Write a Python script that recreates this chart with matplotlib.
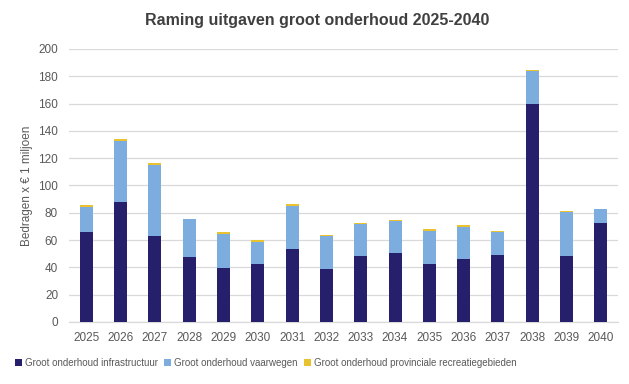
import matplotlib.pyplot as plt
import numpy as np

# Data (bedragen x EUR 1 miljoen)
years = ['2025', '2026', '2027', '2028', '2029', '2030', '2031', '2032',
         '2033', '2034', '2035', '2036', '2037', '2038', '2039', '2040']
infrastructuur = [66.0, 88.0, 63.1, 47.7, 39.6, 42.5, 53.5, 38.9,
                  48.4, 50.6, 42.5, 46.2, 49.1, 159.9, 48.4, 72.6]
vaarwegen = [18.4, 44.8, 52.1, 27.4, 25.2, 16.4, 31.8, 24.2,
             23.7, 23.5, 24.2, 23.5, 16.9, 24.2, 32.3, 10.3]
recreatiegebieden = [1.4, 0.9, 0.9, 0.5, 1.2, 1.2, 0.8, 0.7,
                     0.5, 0.7, 1.5, 1.4, 0.7, 0.7, 0.7, 0.0]

series_labels = ['Groot onderhoud infrastructuur', 'Groot onderhoud vaarwegen',
                 'Groot onderhoud provinciale recreatiegebieden']
colors = ['#261F6B', '#7DADDF', '#E9C22F']
text_color = '#595959'

plt.rcParams['font.family'] = ['Liberation Sans', 'DejaVu Sans']

fig = plt.figure(figsize=(6.29, 3.84), dpi=100)
ax = fig.add_axes([0.110, 0.1615, 0.8725, 0.711])

x = np.arange(len(years))
width = 0.38
bottom = np.zeros(len(years))
for values, label, color in zip([infrastructuur, vaarwegen, recreatiegebieden], series_labels, colors):
    ax.bar(x, values, width, bottom=bottom, color=color, label=label, zorder=3)
    bottom += np.array(values)

ax.set_xlim(-0.5, len(years) - 0.5)
ax.set_ylim(0, 200)
ax.set_yticks(range(0, 201, 20))
ax.set_xticks(x)
ax.set_xticklabels(years)
ax.tick_params(axis='both', length=0, labelsize=8.5, colors=text_color)
ax.tick_params(axis='x', pad=7)
ax.tick_params(axis='y', pad=8)

ax.grid(True, axis='y', color='#D9D9D9', linewidth=0.9, zorder=0)
for side in ['top', 'right', 'left']:
    ax.spines[side].set_visible(False)
ax.spines['bottom'].set_color('#D9D9D9')
ax.spines['bottom'].set_linewidth(0.9)

ax.set_ylabel('Bedragen x € 1 miljoen', fontsize=8.5, color=text_color, labelpad=4)
fig.suptitle('Raming uitgaven groot onderhoud 2025-2040', x=0.505, y=0.965,
             fontsize=11.5, fontweight='bold', color='#404040')

ax.legend(loc='upper center', bbox_to_anchor=(0.358, -0.1), ncol=3, frameon=False,
          fontsize=7, labelcolor=text_color, handlelength=0.75, handleheight=0.75,
          handletextpad=0.3, columnspacing=0.6)

fig.savefig('out.png', dpi=100)
